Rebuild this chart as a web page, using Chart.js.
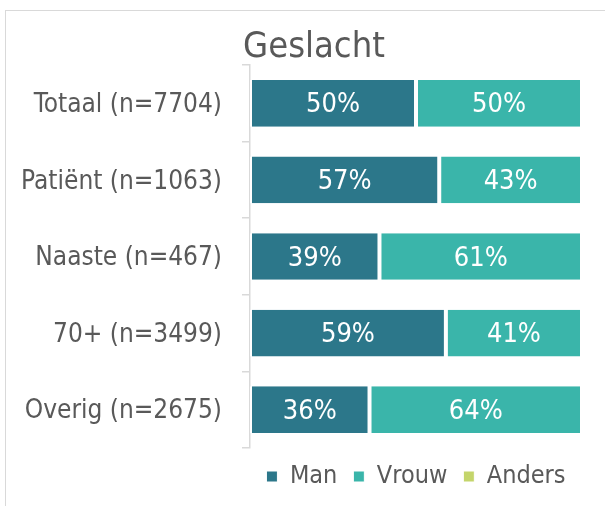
<!DOCTYPE html>
<html>
<head>
<meta charset="utf-8">
<script src="https://cdn.jsdelivr.net/npm/chart.js@4/dist/chart.umd.min.js"></script>
<style>
  body { margin: 0; background: #fff; }
  #wrap { position: relative; width: 605px; height: 506px; overflow: hidden; }
  #frame { position: absolute; left: 5px; top: 10px; width: 800px; height: 700px; border: 1.5px solid #d9d9d9; }
  #titolo { position: absolute; left: 0; top: 27px; width: 628px; text-align: center; line-height: 36px;
            font-family: "DejaVu Sans Condensed", "DejaVu Sans", sans-serif; font-size: 36px; color: #595959; }
  canvas { position: absolute; left: 0; top: 0; }
</style>
</head>
<body>
<div id="wrap">
  <div id="frame"></div>
  <canvas id="myChart" width="605" height="506"></canvas>
  <div id="titolo">Geslacht</div>
</div>
<script>
// dati del grafico
var categorie = ['Totaal (n=7704)', 'Patiënt (n=1063)', 'Naaste (n=467)', '70+ (n=3499)', 'Overig (n=2675)'];
var man = [50, 57, 39, 59, 36];
var vrouw = [50, 43, 61, 41, 64];
var anders = [0, 0, 0, 0, 0];
var serie = ['Man', 'Vrouw', 'Anders'];

var font_nome = '"DejaVu Sans Condensed", "DejaVu Sans", sans-serif';

// etichette percentuali dentro le barre
var etichette = {
  id: 'etichette',
  afterDatasetsDraw: function(chart) {
    var ctx = chart.ctx;
    ctx.save();
    ctx.fillStyle = '#ffffff';
    ctx.font = '27px ' + font_nome;
    ctx.textAlign = 'center';
    ctx.textBaseline = 'middle';
    chart.data.datasets.forEach(function(ds, i) {
      chart.getDatasetMeta(i).data.forEach(function(bar, j) {
        if (!ds.data[j]) return;
        var p = bar.getCenterPoint();
        ctx.fillText(ds.data[j] + '%', p.x, p.y + 2);
      });
    });
    ctx.restore();
  }
};

var ctx = document.getElementById('myChart').getContext('2d');
var chart = new Chart(ctx, {
  type: 'bar',
  data: {
    labels: categorie,
    datasets: [
      { label: serie[0], data: man, backgroundColor: '#2c778a' },
      { label: serie[1], data: vrouw, backgroundColor: '#3ab5aa' },
      { label: serie[2], data: anders, backgroundColor: '#c4d56b' }
    ]
  },
  options: {
    indexAxis: 'y',
    responsive: false,
    animation: false,
    datasets: {
      bar: {
        categoryPercentage: 1,
        barPercentage: 0.61,
        borderColor: '#ffffff',
        borderWidth: { left: 2, right: 2, top: 0, bottom: 0 },
        borderSkipped: false
      }
    },
    layout: { padding: { top: 65, right: 23, bottom: 7, left: 0 } },
    scales: {
      x: { stacked: true, min: 0, max: 100, display: false },
      y: {
        stacked: true,
        afterFit: function(scale) { scale.width = 250; },
        grid: { drawOnChartArea: false, color: '#d9d9d9', lineWidth: 1.5, tickLength: 8, offset: true },
        border: { color: '#d9d9d9', width: 1.5 },
        ticks: { color: '#595959', padding: 20, labelOffset: 2, font: { family: font_nome, size: 26 } }
      }
    },
    plugins: {
      title: { display: false },
      tooltip: { enabled: false },
      legend: {
        position: 'bottom',
        fullSize: false,
        labels: {
          boxWidth: 11,
          boxHeight: 11,
          padding: 16,
          color: '#595959',
          font: { family: font_nome, size: 25 }
        }
      }
    }
  },
  plugins: [etichette]
});
</script>
</body>
</html>
